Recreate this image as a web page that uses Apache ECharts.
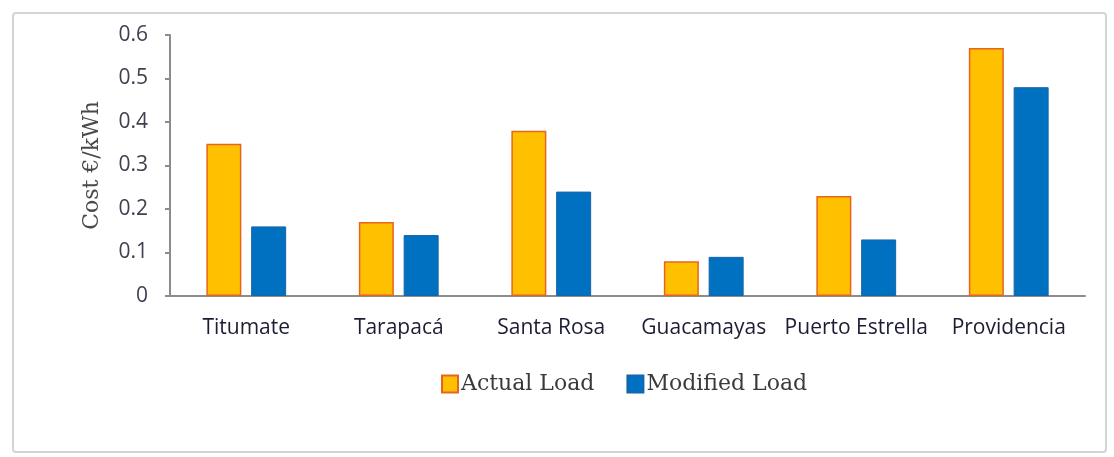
<!DOCTYPE html>
<html>
<head>
<meta charset="utf-8">
<script src="https://cdn.jsdelivr.net/npm/echarts@6/dist/echarts.min.js"></script>
<style>
html,body{margin:0;padding:0;background:#fff;}
#chart{width:1114px;height:457px;}
</style>
</head>
<body>
<div id="chart"></div>
<script>
const categories = ['Titumate', 'Tarapacá', 'Santa Rosa', 'Guacamayas', 'Puerto Estrella', 'Providencia'];
const actualLoad = [0.35, 0.17, 0.38, 0.08, 0.23, 0.57];
const modifiedLoad = [0.16, 0.14, 0.24, 0.09, 0.13, 0.48];
const yTicks = [0, 0.1, 0.2, 0.3, 0.4, 0.5, 0.6];
const seriesNames = ['Actual Load', 'Modified Load'];
const yName = 'Cost €/kWh';

const chart = echarts.init(document.getElementById('chart'), null, {renderer: 'canvas'});
chart.setOption({
  animation: false,
  backgroundColor: '#ffffff',
  graphic: [{
    type: 'rect',
    shape: {x: 13, y: 13, width: 1093, height: 439, r: 3},
    style: {fill: 'none', stroke: '#d4d4d4', lineWidth: 2},
    z: -1
  }],
  grid: {left: 170, right: 29, top: 35, bottom: 161, containLabel: false},
  legend: {
    left: 436,
    top: 368,
    itemWidth: 16,
    itemHeight: 17,
    itemGap: 32,
    icon: 'rect',
    textStyle: {fontFamily: 'DejaVu Serif', fontSize: 22, color: '#3a3a3a', padding: [0, 0, 0, -2]},
    data: seriesNames
  },
  xAxis: {
    type: 'category',
    data: categories,
    axisLine: {lineStyle: {color: '#8c8c8c', width: 2}},
    axisTick: {show: false},
    axisLabel: {interval: 0, fontFamily: 'Open Sans', fontSize: 21, color: '#1c1c34', margin: 22}
  },
  yAxis: {
    type: 'value',
    min: 0,
    max: 0.6,
    interval: 0.1,
    name: yName,
    nameLocation: 'middle',
    nameGap: 67,
    nameTextStyle: {fontFamily: 'DejaVu Serif', fontSize: 22, color: '#4a4a4a'},
    axisLine: {show: true, lineStyle: {color: '#8c8c8c', width: 2}},
    axisTick: {show: true, length: 5, lineStyle: {color: '#8c8c8c', width: 2}},
    splitLine: {show: false},
    axisLabel: {
      fontFamily: 'Open Sans', fontSize: 21, color: '#404050', margin: 22,
      formatter: function (v) {
        const t = yTicks.find(x => Math.abs(x - v) < 1e-9);
        return t === undefined ? '' : String(t);
      }
    }
  },
  series: [{
    name: seriesNames[0],
    type: 'bar',
    data: actualLoad,
    barWidth: 35,
    barGap: '28%',
    itemStyle: {color: '#FFC000', borderColor: '#E8641E', borderWidth: 1.5}
  }, {
    name: seriesNames[1],
    type: 'bar',
    data: modifiedLoad,
    barWidth: 35,
    itemStyle: {color: '#0070C0', borderColor: '#1565A8', borderWidth: 1}
  }]
});
</script>
</body>
</html>
